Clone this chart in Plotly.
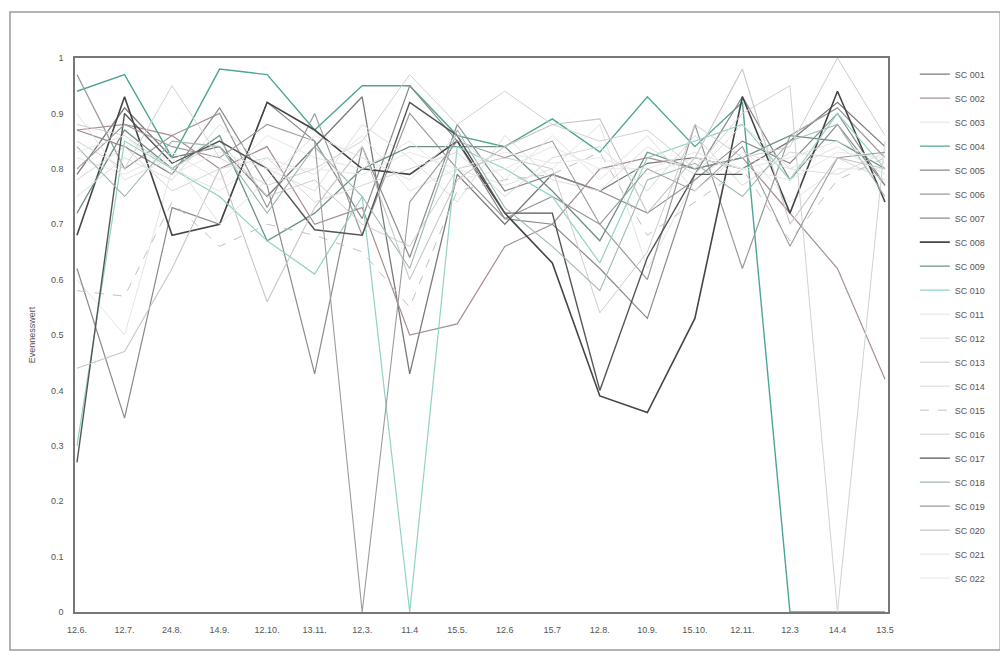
import plotly.graph_objects as go

dates = ["12.6.", "12.7.", "24.8.", "14.9.", "12.10.", "13.11.", "12.3.", "11.4", "15.5.",
         "12.6", "15.7", "12.8.", "10.9.", "15.10.", "12.11.", "12.3", "14.4", "13.5"]

SC001 = [0.79, 0.91, 0.82, 0.84, 0.75, 0.84, 0.93, 0.43, 0.79, 0.70, 0.79, 0.76, 0.81, 0.82, 0.80, 0.85, 0.92, 0.84]
SC002 = [0.87, 0.88, 0.86, 0.80, 0.84, 0.70, 0.73, 0.50, 0.52, 0.66, 0.70, 0.80, 0.82, 0.80, 0.82, 0.72, 0.62, 0.42]
SC003 = [0.60, 0.50, 0.80, 0.76, 0.82, 0.79, 0.86, 0.76, 0.80, 0.77, 0.80, 0.88, 0.62, 0.78, 0.84, 0.74, 0.80, 0.80]
SC004 = [0.94, 0.97, 0.82, 0.98, 0.97, 0.87, 0.95, 0.95, 0.86, 0.84, 0.89, 0.83, 0.93, 0.84, 0.92, 0.00, 0.00, 0.00]
SC005 = [0.62, 0.35, 0.73, 0.70, 0.92, 0.85, 0.71, 0.95, 0.85, 0.71, 0.70, 0.62, 0.53, 0.79, 0.93, 0.78, 0.88, 0.77]
SC006 = [0.97, 0.80, 0.86, 0.90, 0.73, 0.90, 0.68, 0.90, 0.80, 0.71, 0.75, 0.70, 0.60, 0.88, 0.62, 0.86, 0.91, 0.82]
SC007 = [0.87, 0.84, 0.79, 0.91, 0.77, 0.43, 0.84, 0.64, 0.88, 0.76, 0.79, 0.76, 0.72, 0.78, 0.85, 0.81, 0.90, 0.77]
SC008 = [0.68, 0.93, 0.68, 0.70, 0.92, 0.87, 0.80, 0.79, 0.85, 0.72, 0.63, 0.39, 0.36, 0.53, 0.93, 0.72, 0.94, 0.74]
SC009 = [0.72, 0.87, 0.80, 0.86, 0.67, 0.72, 0.80, 0.84, 0.84, 0.84, 0.76, 0.67, 0.83, 0.80, 0.82, 0.86, 0.85, 0.80]
SC010 = [0.30, 0.85, 0.80, 0.75, 0.67, 0.61, 0.75, 0.00, 0.84, 0.80, 0.75, 0.63, 0.82, 0.85, 0.88, 0.78, 0.90, 0.80]
SC011 = [0.82, 0.79, 0.83, 0.78, 0.86, 0.82, 0.80, 0.85, 0.78, 0.80, 0.84, 0.80, 0.80, 0.83, 0.80, 0.82, 0.85, 0.81]
SC012 = [0.75, 0.82, 0.78, 0.88, 0.80, 0.76, 0.88, 0.82, 0.74, 0.86, 0.78, 0.76, 0.84, 0.79, 0.88, 0.80, 0.79, 0.83]
SC013 = [0.88, 0.86, 0.80, 0.85, 0.75, 0.78, 0.70, 0.66, 0.80, 0.82, 0.80, 0.54, 0.65, 0.88, 0.82, 0.84, 1.00, 0.86]
SC014 = [0.78, 0.84, 0.76, 0.80, 0.82, 0.74, 0.77, 0.80, 0.83, 0.75, 0.82, 0.84, 0.76, 0.86, 0.77, 0.83, 0.82, 0.78]
SC015 = [0.58, 0.57, 0.74, 0.66, 0.70, 0.68, 0.65, 0.55, 0.76, 0.78, 0.79, 0.83, 0.68, 0.74, 0.80, 0.67, 0.78, 0.82]
SC016 = [0.85, 0.80, 0.95, 0.82, 0.77, 0.80, 0.85, 0.97, 0.88, 0.94, 0.88, 0.85, 0.87, 0.80, 0.90, 0.95, 0.00, 0.85]
SC017 = [0.27, 0.90, 0.81, 0.85, 0.80, 0.69, 0.68, 0.92, 0.86, 0.72, 0.72, 0.40, 0.64, 0.79, 0.79, None, None, None]
SC018 = [0.84, 0.75, 0.85, 0.84, 0.72, 0.84, 0.75, 0.62, 0.87, 0.73, 0.66, 0.58, 0.78, 0.81, 0.75, 0.85, 0.88, 0.75]
SC019 = [0.80, 0.88, 0.84, 0.82, 0.88, 0.85, 0.00, 0.74, 0.85, 0.82, 0.85, 0.70, 0.80, 0.76, 0.84, 0.66, 0.82, 0.83]
SC020 = [0.44, 0.47, 0.62, 0.80, 0.56, 0.73, 0.84, 0.60, 0.78, 0.84, 0.88, 0.89, 0.72, 0.82, 0.98, 0.70, 0.82, 0.80]
SC021 = [0.90, 0.78, 0.82, 0.70, 0.78, 0.86, 0.82, 0.78, 0.86, 0.78, 0.86, 0.78, 0.86, 0.76, 0.83, 0.80, 0.84, 0.79]
SC022 = [0.83, 0.86, 0.79, 0.83, 0.80, 0.80, 0.79, 0.83, 0.80, 0.83, 0.81, 0.82, 0.79, 0.82, 0.80, 0.78, 0.83, 0.82]

series = [
    ("SC 001", SC001, "#7a7a7a", "solid", 1.3),
    ("SC 002", SC002, "#a98f8f", "solid", 1.2),
    ("SC 003", SC003, "#e4e4e4", "solid", 1.0),
    ("SC 004", SC004, "#4fa595", "solid", 1.4),
    ("SC 005", SC005, "#8a8a8a", "solid", 1.2),
    ("SC 006", SC006, "#9a9a9a", "solid", 1.2),
    ("SC 007", SC007, "#8c8c8c", "solid", 1.2),
    ("SC 008", SC008, "#454545", "solid", 1.6),
    ("SC 009", SC009, "#6f918a", "solid", 1.3),
    ("SC 010", SC010, "#8fd3c6", "solid", 1.2),
    ("SC 011", SC011, "#e6e6e6", "solid", 1.0),
    ("SC 012", SC012, "#dedede", "solid", 1.0),
    ("SC 013", SC013, "#cdcdcd", "solid", 1.0),
    ("SC 014", SC014, "#d8d8d8", "solid", 1.0),
    ("SC 015", SC015, "#c2c2c2", "dash", 1.0),
    ("SC 016", SC016, "#d2d2d2", "solid", 1.0),
    ("SC 017", SC017, "#555555", "solid", 1.4),
    ("SC 018", SC018, "#9fb8b3", "solid", 1.1),
    ("SC 019", SC019, "#9c9c9c", "solid", 1.1),
    ("SC 020", SC020, "#c6c6c6", "solid", 1.1),
    ("SC 021", SC021, "#e2e2e2", "solid", 1.0),
    ("SC 022", SC022, "#e8e8e8", "solid", 1.0),
]

xs = list(range(len(dates)))
fig = go.Figure()
for name, vals, col, dash, w in series:
    fig.add_trace(go.Scatter(
        x=xs, y=vals, name=name, mode="lines", legendgroup=name,
        line=dict(color=col, width=w, dash=dash), connectgaps=False))

font_family = "Liberation Sans, Arial, sans-serif"
fig.update_layout(
    width=1000, height=658,
    margin=dict(l=67, r=120, t=50, b=54),
    paper_bgcolor="white", plot_bgcolor="white",
    font=dict(family=font_family, size=9, color="#555555"),
    showlegend=True,
    legend=dict(x=1.033, y=0.997, xanchor="left", yanchor="top",
                font=dict(size=9, color="#555555"), tracegroupgap=5,
                bgcolor="rgba(0,0,0,0)"),
    xaxis=dict(range=[-0.042, 17.063], tickmode="array", tickvals=xs, ticktext=dates,
               showgrid=False, zeroline=False, showline=True, mirror=True,
               linecolor="#777777", linewidth=1.5, ticks="", ticklabelstandoff=8,
               tickfont=dict(size=9)),
    yaxis=dict(range=[0, 1], tickmode="array",
               tickvals=[0, 0.1, 0.2, 0.3, 0.4, 0.5, 0.6, 0.7, 0.8, 0.9, 1],
               ticktext=["0", "0.1", "0.2", "0.3", "0.4", "0.5", "0.6", "0.7", "0.8", "0.9", "1"],
               showgrid=False, zeroline=False, showline=True, mirror=True,
               linecolor="#777777", linewidth=1.5, ticks="", ticklabelstandoff=8,
               tickfont=dict(size=9),
               title=dict(text="Evennesswert", font=dict(size=9), standoff=14)),
    shapes=[dict(type="rect", xref="paper", yref="paper",
                 x0=-0.08, x1=1.138, y0=-0.0686, y1=1.083,
                 line=dict(color="#9a9a9a", width=1.5), fillcolor="rgba(0,0,0,0)")],
)

fig.write_html("out.html")
